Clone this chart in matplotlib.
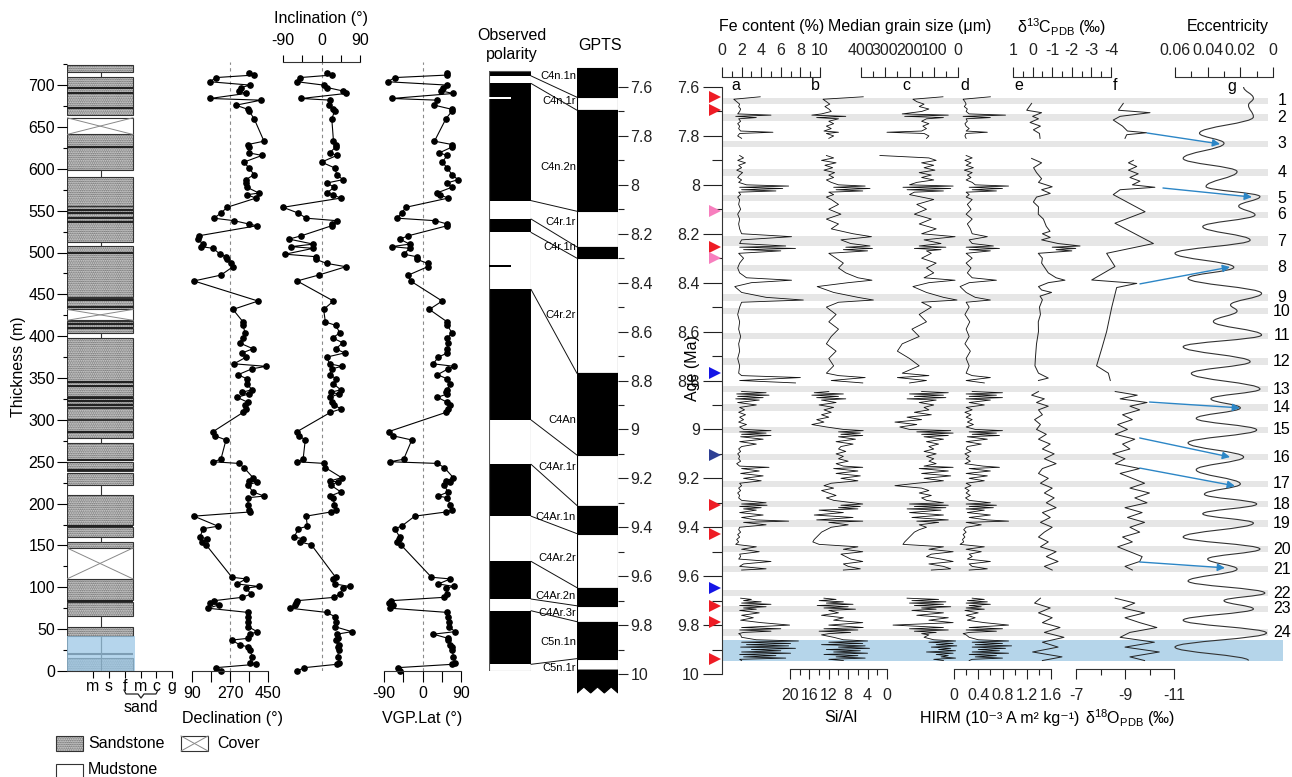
import numpy as np
import matplotlib
matplotlib.use("Agg")
import matplotlib.pyplot as plt
from matplotlib.patches import Rectangle, Polygon, ConnectionPatch, PathPatch
from matplotlib.path import Path
from matplotlib.lines import Line2D
from matplotlib.ticker import FixedLocator, FuncFormatter
import matplotlib.transforms as mtransforms

plt.rcParams['font.family'] = ['Liberation Sans', 'DejaVu Sans']
plt.rcParams['font.size'] = 11.5
plt.rcParams['axes.unicode_minus'] = False
plt.rcParams['mathtext.fontset'] = 'custom'
plt.rcParams['mathtext.rm'] = 'Liberation Sans'
plt.rcParams['mathtext.it'] = 'Liberation Sans:italic'
plt.rcParams['mathtext.bf'] = 'Liberation Sans:bold'
plt.rcParams['hatch.linewidth'] = 0.8
nan = np.nan

# ============================ DATA ============================
# Lithology (thickness in m)
sand_beds = [(0, 15), (42, 53), (66, 83), (85, 110), (147, 154), (160, 172), (174, 210),
             (222, 237), (239, 250), (252, 272), (278, 286), (287, 300), (301, 314),
             (315, 318), (319, 322), (323, 327), (328, 398), (404, 410), (411, 418),
             (432, 446), (447, 508), (512, 555), (555, 590), (598, 641), (664, 710), (716, 724)]
mud_beds = [(15, 42), (53, 66), (154, 160), (210, 222), (272, 278), (398, 404),
            (508, 512), (590, 598), (710, 716)]
cover_beds = [(110, 147), (419, 432), (641, 661)]
dark_layers = [20, 84, 173, 240, 252, 286, 318, 322, 326, 341, 345, 410, 415, 435, 443,
               500, 537, 541, 547, 551, 626, 673, 690, 696]
blue_zone_m = (0, 42)
grain_labels = ['m', 's', 'f', 'm', 'c', 'g']
thick_ticks = [0, 50, 100, 150, 200, 250, 300, 350, 400, 450, 500, 550, 600, 650, 700]

# Palaeomagnetic samples
thick = [714, 712, 709, 704, 700, 697, 693, 690, 684, 682,
         676, 671, 669, 660, 633, 629, 626, 619, 616, 608,
         601, 593, 587, 583, 578, 571, 569, 565, 554, 547,
         541, 538, 534, 532, 520, 516, 510, 507, 505, 498,
         495, 492, 487, 483, 473, 466, 442, 432, 417, 413,
         404, 398, 392, 385, 380, 375, 367, 364, 361, 354,
         349, 343, 336, 333, 331, 327, 321, 318, 313, 309,
         286, 281, 276, 253, 250, 248, 243, 231, 227, 226,
         222, 214, 209, 207, 198, 192, 190, 185, 173, 170,
         160, 158, 154, 151, 112, 110, 104, 101, 99, 92,
         88, 84, 81, 79, 75, 70, 65, 59, 53, 47,
         44, 39, 37, 31, 29, 25, 17, 10, 8, 4, 0]
decl = [360, 384, 204, 175, 365, 322, 313, 345, 175, 417,
        298, 355, 360, 384, 431, 355, 360, 360, 422, 336,
        360, 384, 345, 345, 350, 407, 350, 393, 256, 227,
        194, 289, 360, 398, 123, 118, 142, 133, 190, 223,
        251, 256, 275, 284, 227, 99, 403, 284, 332, 332,
        341, 330, 315, 379, 327, 346, 289, 441, 374, 308,
        351, 351, 374, 327, 360, 303, 355, 340, 345, 332,
        190, 199, 251, 227, 190, 313, 336, 379, 360, 398,
        355, 379, 431, 355, 355, 360, 365, 99, 213, 142,
        128, 161, 137, 156, 279, 346, 303, 407, 346, 370,
        327, 194, 175, 218, 166, 355, 357, 357, 357, 398,
        365, 355, 279, 317, 355, 365, 375, 365, 393, 204, 227]
incl = [12, 24, -50, -57, 5, 14, 50, 57, -47, 21,
        17, 26, 31, 24, 28, 33, 33, 19, 36, 0,
        31, 36, 50, 12, 30, 12, 26, 45, -90, -54,
        -36, 36, 24, 24, -47, -76, -19, -71, -19, -85,
        -14, -14, 12, 57, -7, -57, 28, 5, 9, 33,
        43, 26, 50, 33, 54, 12, 19, 47, 25, 19,
        35, 28, 45, 22, 40, 20, 25, 30, 45, 21,
        -57, -52, -38, -43, -57, 7, 9, 47, 20, 38,
        22, 45, 20, 28, 30, 35, 22, -36, -33, -54,
        -64, -43, -50, -24, 33, 28, 31, 66, 50, 43,
        30, -57, -59, -62, -73, 12, 31, 33, 31, 71,
        36, 38, 35, 40, 38, 40, 38, 42, 36, -40, -57]
vgp = [58, 58, -65, -81, 58, 49, 44, 72, -72, 35,
       28, 69, 69, 55, 28, 69, 69, 39, 58, 46,
       58, 69, 83, 57, 69, 33, 40, 60, -39, -49,
       -60, 30, 58, 58, -33, -53, -30, -72, -30, -44,
       -14, -14, 12, 12, -33, -28, 46, 16, 58, 58,
       69, 58, 60, 58, 58, 37, 25, 74, 60, 35,
       58, 65, 58, 55, 58, 35, 58, 65, 60, 55,
       -79, -69, -25, -44, -76, 35, 51, 72, 55, 65,
       50, 60, 37, 58, 65, 68, 55, -18, -49, -65,
       -53, -55, -60, -51, 21, 65, 37, 74, 55, 58,
       50, -74, -79, -69, -75, 58, 60, 62, 62, 76,
       25, 60, 60, 65, 68, 70, 72, 75, 70, -58, -53]

# Observed polarity (thickness boundaries, bottom -> top) and polarity (1 normal, 0 reversed)
obs_bounds = [0, 8, 72, 86, 131, 185, 247, 300, 456, 524, 540, 562, 702, 711, 717]
obs_pol = [0, 1, 0, 1, 0, 1, 0, 1, 0, 1, 0, 1, 0, 1]
obs_short = [(684, 0), (484, 1)]

# GPTS (Ma, top -> bottom)
gpts_bounds = [7.522, 7.642, 7.695, 8.108, 8.254, 8.300, 8.771, 9.105, 9.311,
               9.426, 9.647, 9.721, 9.786, 9.937, 9.984]
gpts_pol = [1, 0, 1, 0, 1, 0, 1, 0, 1, 0, 1, 0, 1, 0, 1]
chron_names = ['C4n.1n', 'C4n.1r', 'C4n.2n', 'C4r.1r', 'C4r.1n', 'C4r.2r', 'C4An',
               'C4Ar.1r', 'C4Ar.1n', 'C4Ar.2r', 'C4Ar.2n', 'C4Ar.3r', 'C5n.1n', 'C5n.1r']
tie_m = [711, 702, 562, 540, 524, 456, 300, 247, 185, 131, 86, 72, 8]
tie_age = [7.642, 7.695, 8.108, 8.254, 8.300, 8.771, 9.105, 9.311, 9.426, 9.647, 9.721, 9.786, 9.937]
tie_colors = ['#ee1c25', '#ee1c25', '#f77fbe', '#ee1c25', '#f77fbe', '#1515e6', '#2e3f94',
              '#ee1c25', '#ee1c25', '#1515e6', '#ee1c25', '#ee1c25', '#ee1c25']

# Eccentricity minima bands (Ma) and the grey-band labels
band_ages = [7.657, 7.725, 7.833, 7.948, 8.054, 8.123, 8.230, 8.340, 8.459, 8.516, 8.618, 8.724,
             8.835, 8.912, 9.002, 9.113, 9.223, 9.305, 9.383, 9.489, 9.571, 9.669, 9.734, 9.832]
band_half = [0.013, 0.014, 0.013, 0.014, 0.014, 0.013, 0.020, 0.014, 0.014, 0.013, 0.013, 0.014,
             0.013, 0.014, 0.013, 0.014, 0.014, 0.014, 0.014, 0.013, 0.013, 0.014, 0.014, 0.014]
blue_band_age = (9.861, 9.947)

# Geochemical / grain-size / magnetic records (Ma)
A1 = [7.640, 7.650, 7.660, 7.670, 7.680, 7.690, 7.700, 7.710, 7.715, 7.720,
      7.725, 7.730, 7.740, 7.750, 7.760, 7.770, 7.780, 7.785, 7.790, 7.800, 7.810]
A2 = [7.880, 7.890, 7.900, 7.910, 7.920, 7.930, 7.940, 7.950, 7.960, 7.970,
      7.980, 7.990, 8.000, 8.005, 8.010, 8.015, 8.020, 8.025, 8.030, 8.040,
      8.050, 8.060, 8.080, 8.100, 8.120, 8.140, 8.160, 8.180, 8.200, 8.212,
      8.225, 8.240, 8.250, 8.255, 8.260, 8.265, 8.270, 8.280, 8.300, 8.320,
      8.340, 8.360, 8.380, 8.390, 8.400, 8.416, 8.440, 8.460, 8.471, 8.480,
      8.500, 8.530, 8.560, 8.590, 8.620, 8.650, 8.680, 8.710, 8.740, 8.770,
      8.780, 8.788, 8.800, 8.810]
A3 = [8.845, 8.850, 8.855, 8.860, 8.865, 8.870, 8.875, 8.880, 8.890, 8.900,
      8.910, 8.920, 8.930, 8.940, 8.950, 8.960, 8.970, 8.980, 8.990, 9.000,
      9.005, 9.010, 9.015, 9.020, 9.025, 9.030, 9.040, 9.050, 9.060, 9.070,
      9.080, 9.090, 9.100, 9.110, 9.120, 9.130, 9.140, 9.150, 9.155, 9.160,
      9.170, 9.180, 9.190, 9.200, 9.210, 9.220, 9.230, 9.240, 9.250, 9.260,
      9.270, 9.280, 9.290, 9.300, 9.305, 9.310, 9.315, 9.320, 9.325, 9.330,
      9.340, 9.350, 9.360, 9.370, 9.375, 9.380, 9.390, 9.400, 9.410, 9.420,
      9.430, 9.440, 9.450, 9.460, 9.470, 9.480, 9.490, 9.500, 9.510, 9.520,
      9.530, 9.540, 9.550, 9.560, 9.570, 9.575]
A4 = [9.690, 9.695, 9.700, 9.705, 9.710, 9.715, 9.720, 9.725, 9.730, 9.735,
      9.740, 9.750, 9.760, 9.770, 9.780, 9.790, 9.800, 9.810, 9.815, 9.820,
      9.825, 9.830, 9.835, 9.840, 9.850, 9.860, 9.865, 9.870, 9.875, 9.880,
      9.885, 9.890, 9.895, 9.900, 9.905, 9.910, 9.915, 9.920, 9.925, 9.930,
      9.935, 9.940, 9.945]

fe1 = [3.9, 1.2, 1.5, 1.8, 1.7, 1.9, 1.8, 1.6, 5.0, 1.4, 3.5, 1.7, 1.9, 1.6, 1.8, 1.7, 1.9, 5.2, 1.8, 1.6, 2.0]
fe2 = [1.8, 2.2, 1.6, 2.4, 1.7, 2.0, 1.5, 2.1, 1.8, 1.6, 2.0, 1.7, 2.5, 6.8, 1.8, 6.2, 2.0, 5.5, 1.7, 1.9,
       1.6, 1.8, 1.7, 1.9, 1.6, 1.8, 1.7, 1.8, 2.0, 7.1, 2.0, 1.8, 6.5, 1.8, 7.5, 2.2, 6.0, 1.7, 2.2, 1.8,
       1.6, 1.8, 2.5, 7.1, 3.0, 1.3, 2.0, 4.5, 8.3, 2.0, 1.8, 1.6, 1.8, 1.7, 1.9, 1.7, 1.8, 1.6, 1.8, 1.7,
       2.0, 8.0, 1.8, 7.5]
fe3 = [2.0, 4.5, 1.5, 4.8, 1.6, 4.2, 1.4, 3.8, 1.6, 3.5, 1.8, 2.3, 1.7, 2.4, 1.8, 2.2, 1.7, 2.5, 1.8, 2.2,
       5.0, 1.8, 4.5, 2.0, 5.0, 1.9, 4.2, 1.8, 3.5, 2.0, 1.7, 1.9, 1.6, 1.8, 1.7, 1.9, 1.5, 1.8, 4.8, 2.0,
       3.8, 1.9, 4.2, 2.2, 4.0, 1.8, 2.0, 1.7, 1.9, 1.6, 1.8, 1.7, 2.0, 4.5, 2.0, 4.6, 1.8, 4.0, 2.2, 3.5,
       1.8, 4.2, 2.0, 3.5, 6.8, 2.2, 4.5, 1.8, 1.7, 1.9, 1.6, 1.8, 1.5, 1.7, 1.4, 3.5, 2.0, 3.8, 1.8, 1.9,
       1.7, 5.0, 2.2, 1.8, 4.5, 2.0]
fe4 = [1.9, 3.0, 2.2, 4.0, 2.0, 5.0, 1.8, 4.5, 2.2, 3.5, 1.8, 3.8, 2.0, 3.2, 1.9, 4.0, 6.9, 2.0, 6.0, 1.8,
       5.0, 2.2, 1.7, 1.9, 2.0, 3.5, 7.8, 2.0, 7.0, 2.5, 6.8, 1.9, 7.5, 3.0, 6.0, 2.0, 7.0, 1.8, 5.5, 2.2,
       6.5, 1.8, 2.0]

sial1 = [4.9, 13.2, 12.5, 11.8, 12.8, 12.0, 11.5, 13.5, 15.5, 8.5, 14.5, 10.0, 12.0, 11.0, 12.5, 11.5, 13.0, 10.0, 12.5, 11.0, 12.0]
sial2 = [12.5, 11.0, 13.5, 10.5, 12.8, 11.2, 13.0, 10.8, 12.0, 11.0, 12.5, 11.5, 10.0, 4.5, 11.0, 3.5, 10.5, 5.0, 12.0, 11.0,
         12.5, 11.5, 10.0, 12.0, 9.5, 12.5, 10.0, 11.5, 7.0, 3.2, 9.5, 7.5, 3.5, 8.5, 3.0, 9.0, 4.0, 12.0, 10.5, 9.0,
         10.0, 8.5, 6.0, 3.1, 8.0, 14.4, 11.0, 6.0, 2.8, 10.0, 12.5, 10.5, 12.0, 10.0, 11.5, 12.5, 10.5, 12.0, 11.0, 12.5,
         10.0, 4.5, 11.5, 5.0]
sial3 = [12.0, 15.0, 9.0, 15.5, 10.0, 14.5, 8.5, 13.5, 10.5, 14.0, 11.0, 13.0, 11.5, 13.5, 12.0, 14.5, 13.0, 15.5, 12.5, 9.0,
         4.9, 10.0, 5.5, 9.5, 5.0, 10.0, 6.5, 10.5, 7.0, 9.5, 10.0, 8.5, 10.5, 9.0, 10.0, 8.0, 10.5, 9.0, 5.0, 11.0,
         6.0, 10.5, 5.5, 9.5, 6.0, 11.5, 13.0, 11.0, 13.5, 12.0, 10.5, 12.5, 11.0, 7.0, 5.0, 9.5, 5.5, 10.0, 6.0, 14.0,
         9.0, 15.0, 7.0, 14.5, 5.0, 12.0, 8.0, 11.5, 12.5, 13.5, 14.0, 14.5, 15.0, 15.3, 14.0, 6.0, 9.0, 5.0, 9.5, 8.5,
         7.5, 5.0, 9.0, 8.0, 5.5, 9.0]
sial4 = [13.0, 10.5, 14.0, 9.0, 12.5, 7.0, 14.4, 8.0, 13.0, 6.5, 12.0, 10.0, 13.5, 9.0, 11.0, 5.0, 12.0, 4.9, 13.0, 6.0,
         14.0, 7.5, 12.0, 13.5, 11.0, 9.0, 4.0, 12.0, 5.0, 13.5, 4.5, 10.0, 3.6, 12.5, 5.5, 11.0, 4.0, 13.0, 6.0, 10.5,
         4.5, 12.0, 9.0]

md1 = [62, 186, 170, 140, 160, 120, 150, 230, 40, 220, 60, 130, 150, 120, 145, 130, 150, 293, 140, 120, 130]
md2 = [322, 120, 90, 150, 100, 140, 95, 160, 110, 150, 100, 170, 200, 20, 227, 30, 210, 60, 180, 200,
       150, 100, 170, 130, 180, 110, 160, 90, 150, 12, 140, 70, 160, 50, 180, 70, 130, 110, 150, 90,
       130, 100, 140, 12, 120, 186, 130, 60, 4, 150, 110, 160, 130, 190, 160, 230, 250, 200, 160, 230,
       120, 250, 130, 200]
md3 = [150, 40, 200, 60, 180, 50, 210, 90, 160, 100, 140, 120, 180, 110, 210, 150, 260, 170, 240, 200,
       30, 170, 20, 150, 40, 140, 60, 130, 80, 120, 100, 140, 90, 130, 100, 120, 90, 140, 20, 160,
       40, 150, 30, 140, 60, 170, 260, 150, 120, 160, 110, 150, 130, 60, 200, 40, 180, 50, 210, 70,
       200, 60, 190, 40, 170, 80, 160, 130, 160, 180, 190, 200, 210, 220, 227, 60, 120, 20, 110, 130,
       70, 20, 120, 60, 30, 110]
md4 = [210, 80, 190, 50, 200, 60, 180, 30, 150, 90, 190, 60, 170, 40, 120, 20, 268, 60, 200, 40,
       180, 90, 150, 120, 140, 100, 10, 120, 20, 90, 5, 110, 30, 80, 10, 130, 20, 90, 40, 70,
       10, 100, 60]

hirm1 = [0.6, 0.15, 0.18, 0.2, 0.17, 0.22, 0.2, 0.25, 0.85, 0.15, 0.6, 0.2, 0.22, 0.18, 0.2, 0.25, 0.2, 0.55, 0.2, 0.18, 0.2]
hirm2 = [0.2, 0.3, 0.18, 0.28, 0.2, 0.32, 0.17, 0.3, 0.22, 0.28, 0.2, 0.3, 0.35, 0.9, 0.25, 0.8, 0.3, 0.7, 0.2, 0.25,
         0.2, 0.3, 0.22, 0.28, 0.2, 0.3, 0.22, 0.27, 0.3, 0.55, 0.25, 0.3, 0.65, 0.2, 0.75, 0.25, 0.6, 0.2, 0.3, 0.2,
         0.28, 0.22, 0.3, 0.7, 0.25, 0.1, 0.2, 0.35, 0.6, 0.2, 0.25, 0.18, 0.26, 0.2, 0.25, 0.18, 0.27, 0.2, 0.25, 0.2,
         0.3, 0.6, 0.2, 0.5]
hirm3 = [0.3, 0.8, 0.2, 0.7, 0.25, 0.8, 0.2, 0.6, 0.25, 0.5, 0.2, 0.3, 0.18, 0.28, 0.2, 0.3, 0.22, 0.32, 0.2, 0.35,
         0.8, 0.25, 0.7, 0.3, 0.75, 0.22, 0.55, 0.2, 0.45, 0.22, 0.2, 0.28, 0.18, 0.25, 0.2, 0.27, 0.18, 0.48, 0.75, 0.25,
         0.6, 0.2, 0.55, 0.25, 0.5, 0.2, 0.28, 0.18, 0.25, 0.2, 0.27, 0.19, 0.25, 0.6, 0.2, 0.7, 0.25, 0.65, 0.2, 0.5,
         0.22, 0.6, 0.25, 0.55, 0.9, 0.2, 0.45, 0.2, 0.16, 0.2, 0.15, 0.18, 0.14, 0.16, 0.1, 0.5, 0.2, 0.45, 0.25, 0.3,
         0.22, 0.6, 0.25, 0.3, 0.55, 0.25]
hirm4 = [0.3, 0.5, 0.22, 0.55, 0.2, 0.6, 0.25, 0.45, 0.2, 0.5, 0.18, 0.4, 0.2, 0.35, 0.22, 0.5, 0.9, 0.25, 0.8, 0.2,
         0.7, 0.25, 0.15, 0.2, 0.25, 0.4, 0.9, 0.3, 0.8, 0.35, 0.95, 0.3, 0.85, 0.4, 0.75, 0.3, 0.9, 0.25, 0.7, 0.35,
         0.8, 0.3, 0.25]

d13c_age = [7.667, 7.695, 7.705, 7.720, 7.730, 7.745, 7.760, 7.775, 7.790, 7.810, nan,
            7.892, 7.910, 7.930, 7.950, 7.975, 7.990, 8.008, 8.020, 8.035, 8.050, 8.070, 8.090, 8.120, 8.140,
            8.170, 8.190, 8.200, 8.215, 8.225, 8.240, 8.250, 8.255, 8.260, 8.265, 8.270, 8.280, 8.300, 8.320,
            8.360, 8.380, 8.390, 8.400, 8.416, 8.430, 8.440, 8.455, 8.470, 8.500, 8.530, 8.560, 8.600, 8.650,
            8.700, 8.740, 8.770, 8.790, 8.800, nan,
            8.845, 8.860, 8.875, 8.890, 8.905, 8.920, 8.940, 8.960, 8.980, 9.000, 9.020, 9.040, 9.060, 9.080,
            9.100, 9.120, 9.140, 9.160, 9.180, 9.200, 9.220, 9.240, 9.260, 9.280, 9.300, 9.320, 9.340, 9.360,
            9.380, 9.400, 9.420, 9.440, 9.460, 9.480, 9.500, 9.520, 9.540, 9.560, 9.575, nan,
            9.690, 9.710, 9.730, 9.750, 9.770, 9.790, 9.810, 9.830, 9.850, 9.870, 9.890, 9.910, 9.930, 9.945]
d13c = [0.05, 0.30, -0.46, 0.0, -0.3, 0.13, -0.4, -0.04, -0.35, -0.38, nan,
        0.05, -0.46, -0.05, -0.2, -0.46, -0.3, -1.0, -0.46, -0.9, -0.2, -0.04, -0.3, -0.29, -0.55,
        -0.7, -0.89, -0.5, -0.9, -0.46, -1.3, -2.42, -1.0, -2.2, -1.2, -2.0, -0.29, -0.5, -0.46,
        -0.8, -1.2, -1.65, -0.8, -0.3, -0.46, -0.97, -0.38, -0.5, -0.35, -0.4, -0.29, -0.3, -0.2,
        -0.15, -0.12, -0.3, -0.8, -0.3, nan,
        -0.3, 0.05, -0.6, -0.2, -0.8, -0.3, -0.5, -0.1, -0.4, -0.2, -0.7, -0.3, -0.9, -0.5,
        -1.1, -0.6, -1.2, -0.5, -0.3, -0.8, -0.4, -1.0, -0.6, -1.1, -0.7, -1.2, -0.5, -0.9,
        -0.4, -1.0, -0.6, -0.3, -0.8, -0.4, -1.2, -0.7, -1.3, -0.6, -1.0, nan,
        -0.4, -0.1, -0.9, -0.3, -1.0, -0.5, -1.4, -0.6, -1.6, -0.5, -1.3, 0.0, -1.5, -0.5]

d18o_age = [7.667, 7.695, 7.705, 7.720, 7.735, 7.760, 7.780, 7.787, 7.795, 7.810, nan,
            7.900, 7.910, 7.925, 7.940, 7.955, 7.970, 7.985, 8.000, 8.010, 8.020, 8.040, 8.110, 8.157,
            8.240, 8.280, 8.334, 8.389, 8.403, 8.420, 8.500, 8.600, 8.670, 8.740, 8.770, 8.800, nan,
            8.845, 8.860, 8.875, 8.890, 8.905, 8.920, 8.940, 8.960, 8.980, 9.000, 9.020, 9.040, 9.060,
            9.080, 9.100, 9.120, 9.140, 9.160, 9.180, 9.200, 9.220, 9.240, 9.260, 9.280, 9.300, 9.320,
            9.340, 9.360, 9.380, 9.400, 9.420, 9.440, 9.460, 9.480, 9.500, 9.520, 9.540, 9.560, 9.575, nan,
            9.690, 9.710, 9.730, 9.750, 9.770, 9.790, 9.810, 9.830, 9.850, 9.870, 9.890, 9.910, 9.930, 9.945]
d18o = [-8.93, -8.73, -10.02, -8.8, -8.52, -8.9, -9.1, -9.88, -9.07, -9.0, nan,
        -9.34, -9.14, -9.48, -9.14, -9.54, -9.2, -9.61, -9.3, -10.22, -8.8, -8.52, -9.82, -8.59,
        -10.16, -8.25, -8.59, -7.64, -9.48, -8.66, -8.46, -8.25, -8.05, -7.84, -8.32, -8.4, nan,
        -8.6, -9.5, -8.8, -9.9, -9.2, -9.6, -8.9, -9.3, -8.7, -9.1, -8.6, -9.4, -8.9,
        -9.2, -8.5, -9.0, -8.6, -9.6, -8.8, -9.3, -9.8, -9.2, -10.0, -9.4, -9.9, -9.0,
        -9.7, -9.1, -9.8, -9.2, -9.6, -8.9, -9.3, -8.7, -9.2, -9.7, -9.6, -9.0, -9.3, nan,
        -8.6, -9.4, -8.9, -9.8, -9.0, -9.6, -10.3, -9.2, -8.8, -10.2, -9.0, -10.4, -9.2, -9.8]

# Eccentricity (turning points of the solution)
ecc_age = [7.600, 7.646, 7.674, 7.722, 7.789, 7.830, 7.892, 7.946, 8.007, 8.048, 8.087, 8.123,
           8.171, 8.226, 8.280, 8.337, 8.382, 8.444, 8.491, 8.516, 8.559, 8.614, 8.662, 8.723,
           8.771, 8.835, 8.875, 8.912, 8.955, 9.002, 9.055, 9.113, 9.165, 9.223, 9.265, 9.305,
           9.345, 9.383, 9.440, 9.489, 9.530, 9.571, 9.620, 9.669, 9.700, 9.734, 9.780, 9.832,
           9.890, 9.945]
ecc = [0.018, 0.012, 0.015, 0.012, 0.045, 0.030, 0.055, 0.022, 0.041, 0.008, 0.021, 0.011,
       0.043, 0.014, 0.060, 0.024, 0.052, 0.007, 0.026, 0.022, 0.0365, 0.007, 0.055, 0.014,
       0.050, 0.008, 0.038, 0.020, 0.047, 0.010, 0.052, 0.018, 0.047, 0.020, 0.042, 0.010,
       0.043, 0.012, 0.055, 0.008, 0.040, 0.022, 0.052, 0.005, 0.030, 0.012, 0.055, 0.004,
       0.060, 0.015]

# Arrows linking d18O features to eccentricity minima
arrow_from = [(-9.9, 7.788), (-10.55, 8.013), (-9.61, 8.405), (-10.0, 8.888), (-9.6, 9.035),
              (-9.6, 9.158), (-9.6, 9.542)]
arrow_to = [(0.0324, 7.833), (0.0129, 8.050), (0.0263, 8.336), (0.0202, 8.912), (0.0263, 9.113),
            (0.0233, 9.231), (0.0294, 9.566)]

# ============================ LAYOUT ============================
W, H = 1292, 777
fig = plt.figure(figsize=(W / 100, H / 100), dpi=100)


def add_ax(x0, y0, x1, y1):
    ax = fig.add_axes([x0 / W, 1 - y1 / H, (x1 - x0) / W, (y1 - y0) / H])
    ax.patch.set_visible(False)
    return ax


def ftext(x, y, s, **kw):
    kw.setdefault('ha', 'center')
    kw.setdefault('va', 'center')
    return fig.text(x / W, 1 - y / H, s, **kw)


def hide_spines(ax, keep=()):
    for k, sp in ax.spines.items():
        sp.set_visible(k in keep)
        sp.set_linewidth(0.8)
        sp.set_color('#333333')


fmt_g = FuncFormatter(lambda v, p: f'{v:g}')
SAND_FACE, SAND_DOT, SAND_HATCH = '#dcdcdc', '#555555', '.........'

# ---------------- thickness-based panels ----------------
TY0, TY1 = 62, 671
TMAX = (TY1 - TY0) / 0.837

# Lithology column
ax_lit = add_ax(67, TY0, 172, TY1)
ax_lit.set_xlim(0, 6.6)
ax_lit.set_ylim(0, TMAX)
hide_spines(ax_lit, ('bottom',))
MUD_W, SAND_W = 2.14, 4.15
for b, t in sand_beds:
    ax_lit.add_patch(Rectangle((0, b), SAND_W, t - b, facecolor=SAND_FACE, edgecolor=SAND_DOT,
                               hatch=SAND_HATCH, lw=0))
    ax_lit.add_patch(Rectangle((0, b), SAND_W, t - b, fill=False, edgecolor='#333333', lw=0.8))
for b, t in mud_beds:
    ax_lit.add_patch(Rectangle((0, b), MUD_W, t - b, facecolor='white', edgecolor='#333333', lw=0.8))
for b, t in cover_beds:
    ax_lit.add_patch(Rectangle((0, b), SAND_W, t - b, facecolor='white', edgecolor='#333333', lw=0.8))
    ax_lit.plot([0, SAND_W], [b, t], color='#888888', lw=0.7)
    ax_lit.plot([0, SAND_W], [t, b], color='#888888', lw=0.7)
for d in dark_layers:
    ax_lit.plot([0, SAND_W], [d, d], color='#222222', lw=1.5, solid_capstyle='butt')
ax_lit.plot([MUD_W, MUD_W], [blue_zone_m[0], blue_zone_m[1]], color='#333333', lw=0.8)
ax_lit.add_patch(Rectangle((0, blue_zone_m[0]), SAND_W + 0.15, blue_zone_m[1] - blue_zone_m[0],
                           facecolor='#9cc8e6', alpha=0.75, lw=0, zorder=5))
ax_lit.yaxis.set_major_locator(FixedLocator(thick_ticks))
ax_lit.yaxis.set_minor_locator(FixedLocator([v + 25 for v in thick_ticks]))
ax_lit.tick_params(axis='y', which='major', length=7, width=0.8, pad=1.5)
ax_lit.tick_params(axis='y', which='minor', length=3, width=0.8)
ax_lit.set_xticks([1.63, 2.64, 3.65, 4.65, 5.6, 6.6])
ax_lit.set_xticklabels(grain_labels)
ax_lit.tick_params(axis='x', length=5, width=0.8, pad=1)
ftext(19, 367, 'Thickness (m)', rotation=90)
# brace under sand classes
bx = [124, 126, 138, 141, 144, 156, 158]
by = [690, 694, 694, 698, 694, 694, 690]
fig.add_artist(Line2D([x / W for x in bx], [1 - y / H for y in by], transform=fig.transFigure,
                      color='#222222', lw=0.9))
ftext(141, 707, 'sand')

# Declination
ax_dec = add_ax(192, TY0, 268, TY1)
ax_dec.set_xlim(90, 450)
ax_dec.set_ylim(0, TMAX)
hide_spines(ax_dec, ('bottom',))
ax_dec.axvline(270, color='#8a8a8a', ls=(0, (3, 3)), lw=0.8)
ax_dec.plot(decl, thick, '-o', color='k', lw=0.8, ms=3.8, clip_on=False)
ax_dec.set_xticks([90, 180, 270, 360, 450])
ax_dec.set_xticklabels(['90', '', '270', '', '450'])
ax_dec.set_yticks([])
ax_dec.tick_params(axis='x', length=8, width=0.8, pad=3)
ftext(232, 718, 'Declination (°)')

# Inclination
ax_inc = add_ax(283, TY0, 360, TY1)
ax_inc.set_xlim(-90, 90)
ax_inc.set_ylim(0, TMAX)
hide_spines(ax_inc, ('top',))
ax_inc.axvline(0, color='#8a8a8a', ls=(0, (3, 3)), lw=0.8)
ax_inc.plot(incl, thick, '-o', color='k', lw=0.8, ms=3.8, clip_on=False)
ax_inc.xaxis.set_ticks_position('top')
ax_inc.set_xticks([-90, -45, 0, 45, 90])
ax_inc.set_xticklabels(['-90', '', '0', '', '90'])
ax_inc.set_yticks([])
ax_inc.tick_params(axis='x', length=5, width=0.8, pad=5)
ftext(321, 19, 'Inclination (°)')

# VGP latitude
ax_vgp = add_ax(384, TY0, 461, TY1)
ax_vgp.set_xlim(-90, 90)
ax_vgp.set_ylim(0, TMAX)
hide_spines(ax_vgp, ('bottom',))
ax_vgp.axvline(0, color='#8a8a8a', ls=(0, (3, 3)), lw=0.8)
ax_vgp.plot(vgp, thick, '-o', color='k', lw=0.8, ms=3.8, clip_on=False)
ax_vgp.set_xticks([-90, -45, 0, 45, 90])
ax_vgp.set_xticklabels(['-90', '', '0', '', '90'])
ax_vgp.set_yticks([])
ax_vgp.tick_params(axis='x', length=8, width=0.8, pad=3)
ftext(422, 718, 'VGP.Lat (°)')

# Observed polarity
ax_obs = add_ax(489, TY0, 531, TY1)
ax_obs.set_xlim(0, 1)
ax_obs.set_ylim(0, TMAX)
ax_obs.axis('off')
for i, p in enumerate(obs_pol):
    b, t = obs_bounds[i], obs_bounds[i + 1]
    ax_obs.add_patch(Rectangle((0, b), 1, t - b, facecolor='k' if p else 'white', lw=0))
ax_obs.add_patch(Rectangle((0, obs_bounds[0]), 1, obs_bounds[-1] - obs_bounds[0], fill=False,
                           edgecolor='#555555', lw=0.8))
for m, p in obs_short:
    ax_obs.add_patch(Rectangle((0, m - 1.2), 0.52, 2.4, facecolor='k' if p else 'white', lw=0))
ftext(512, 35, 'Observed')
ftext(512, 54, 'polarity')

# ---------------- GPTS ----------------
AGE_PX = 244.6
def age_at(ypx):
    return 7.6 + (ypx - 87) / AGE_PX

ax_gp = add_ax(577, 62, 618, 700)
ax_gp.set_xlim(0, 1)
ax_gp.set_ylim(age_at(700), age_at(62))
hide_spines(ax_gp, ())
for i, p in enumerate(gpts_pol):
    top = gpts_bounds[i]
    if i + 1 < len(gpts_bounds):
        bot = gpts_bounds[i + 1]
        ax_gp.add_patch(Rectangle((0, top), 1, bot - top, facecolor='k' if p else 'white',
                                  edgecolor='k', lw=0.8))
    else:
        zig_lo, zig_hi = age_at(693), age_at(687)
        verts = [(0, top), (1, top), (1, zig_lo), (5 / 6, zig_hi), (4 / 6, zig_lo), (3 / 6, zig_hi),
                 (2 / 6, zig_lo), (1 / 6, zig_hi), (0, zig_lo)]
        ax_gp.add_patch(Polygon(verts, closed=True, facecolor='k', edgecolor='k', lw=0.8))
ax_gp.yaxis.tick_right()
ax_gp.set_xticks([])
ax_gp.yaxis.set_major_locator(FixedLocator([7.6, 7.8, 8.0, 8.2, 8.4, 8.6, 8.8, 9.0, 9.2, 9.4, 9.6, 9.8, 10.0]))
ax_gp.yaxis.set_minor_locator(FixedLocator([7.7, 7.9, 8.1, 8.3, 8.5, 8.7, 8.9, 9.1, 9.3, 9.5, 9.7, 9.9]))
ax_gp.yaxis.set_major_formatter(fmt_g)
ax_gp.tick_params(axis='y', which='major', length=7, width=0.8, pad=2, colors='#222222')
ax_gp.tick_params(axis='y', which='minor', length=4, width=0.8, colors='#222222')
ftext(600, 45, 'GPTS')

chron_label_px = [76, 101, 167, 222, 247, 315, 420, 467, 517, 558, 596, 613, 642, 668]
for name, y in zip(chron_names, chron_label_px):
    ftext(576, y, name, ha='right', fontsize=8)

for m, a in zip(tie_m, tie_age):
    con = ConnectionPatch(xyA=(1, m), coordsA='data', axesA=ax_obs,
                          xyB=(0, a), coordsB='data', axesB=ax_gp, color='#111111', lw=0.7)
    fig.add_artist(con)

# ---------------- Right panel (age) ----------------
RX0, RX1, RY0, RY1 = 722, 1283, 87, 674
ax_r = add_ax(RX0, RY0, RX1, RY1)
ax_r.set_ylim(10, 7.6)
ax_r.set_xlim(0, 1)
hide_spines(ax_r, ('left',))
ax_r.set_xticks([])
ax_r.yaxis.set_major_locator(FixedLocator([7.6, 7.8, 8.0, 8.2, 8.4, 8.6, 8.8, 9.0, 9.2, 9.4, 9.6, 9.8, 10.0]))
ax_r.yaxis.set_minor_locator(FixedLocator([7.7, 7.9, 8.1, 8.3, 8.5, 8.7, 8.9, 9.1, 9.3, 9.5, 9.7, 9.9]))
ax_r.yaxis.set_major_formatter(fmt_g)
ax_r.tick_params(axis='y', which='major', length=14, width=0.8, pad=2, colors='#222222')
ax_r.tick_params(axis='y', which='minor', length=7, width=0.8, colors='#222222')
ftext(693, 368, 'Age (Ma)', rotation=90)

band_xmax = (1268 - RX0) / (RX1 - RX0)
for c, hw in zip(band_ages, band_half):
    ax_r.axhspan(c - hw, c + hw, xmin=0, xmax=band_xmax, color='#e6e6e6', lw=0, zorder=0)
ax_r.axhspan(blue_band_age[0], blue_band_age[1], xmin=0, xmax=1, color='#b5d5ea', lw=0, zorder=0)
blend = mtransforms.blended_transform_factory(ax_r.transAxes, ax_r.transData)
for i, c in enumerate(band_ages):
    ax_r.text((1282 - RX0) / (RX1 - RX0), c, str(i + 1), transform=blend, ha='center', va='center',
              clip_on=False)
for a, col in zip(tie_age, tie_colors):
    ax_r.plot([(715 - RX0) / (RX1 - RX0)], [a], marker='>', ms=9, color=col, transform=blend,
              clip_on=False, lw=0, markeredgewidth=0)


def curve_axes(p0, v0, p1, v1):
    ax = add_ax(RX0, RY0, RX1, RY1)
    k = (v1 - v0) / (p1 - p0)
    ax.set_xlim(v0 + (RX0 - p0) * k, v0 + (RX1 - p0) * k)
    ax.set_ylim(10, 7.6)
    ax.axis('off')
    return ax


def join(*pairs):
    xs, ys = [], []
    for a, v in pairs:
        xs += list(v) + [nan]
        ys += list(a) + [nan]
    return xs, ys


CURVE = dict(color='#111111', lw=0.6)
ax_fe = curve_axes(722, 0, 820, 10)
x, y = join((A1, fe1), (A2, fe2), (A3, fe3), (A4, fe4))
ax_fe.plot(x, y, **CURVE)
ax_si = curve_axes(790, 20, 887, 0)
x, y = join((A1, sial1), (A2, sial2), (A3, sial3), (A4, sial4))
ax_si.plot(x, y, **CURVE)
ax_md = curve_axes(861, 400, 958, 0)
x, y = join((A1, md1), (A2, md2), (A3, md3), (A4, md4))
ax_md.plot(x, y, **CURVE)
ax_hi = curve_axes(954, 0, 1051, 1.6)
x, y = join((A1, hirm1), (A2, hirm2), (A3, hirm3), (A4, hirm4))
ax_hi.plot(x, y, **CURVE)
ax_c = curve_axes(1013, 1, 1111, -4)
ax_c.plot(d13c, d13c_age, color='#222222', lw=0.7)
ax_o = curve_axes(1076, -7, 1174, -11)
ax_o.plot(d18o, d18o_age, color='#222222', lw=0.7)
ax_e = curve_axes(1175, 0.06, 1273, 0)
verts = [(ecc[0], ecc_age[0])]
codes = [Path.MOVETO]
for i in range(1, len(ecc)):
    dt = ecc_age[i] - ecc_age[i - 1]
    verts += [(ecc[i - 1], ecc_age[i - 1] + 0.4 * dt), (ecc[i], ecc_age[i] - 0.4 * dt), (ecc[i], ecc_age[i])]
    codes += [Path.CURVE4] * 3
ax_e.add_patch(PathPatch(Path(verts, codes), fill=False, edgecolor='#333333', lw=0.8))

for (fx, fy), (tx, ty) in zip(arrow_from, arrow_to):
    ax_e.annotate('', xy=(tx, ty), xycoords=ax_e.transData, xytext=(fx, fy), textcoords=ax_o.transData,
                  arrowprops=dict(arrowstyle='-|>', color='#2c86c6', lw=1.0, mutation_scale=11,
                                  shrinkA=0, shrinkB=0), annotation_clip=False)

for s, xp in zip('abcdefg', [736, 815, 906, 965, 1019, 1115, 1232]):
    ftext(xp, 86, s)


# ---------------- scale bars ----------------
def scale_bar(p0, p1, ypx, v0, v1, majors, minors, side):
    if side == 'top':
        ax = add_ax(p0, ypx, p1, ypx + 2)
        hide_spines(ax, ('top',))
        ax.xaxis.set_ticks_position('top')
    else:
        ax = add_ax(p0, ypx - 2, p1, ypx)
        hide_spines(ax, ('bottom',))
        ax.xaxis.set_ticks_position('bottom')
    ax.set_xlim(v0, v1)
    ax.set_yticks([])
    ax.xaxis.set_major_locator(FixedLocator(majors))
    ax.xaxis.set_minor_locator(FixedLocator(minors))
    ax.xaxis.set_major_formatter(fmt_g)
    ax.tick_params(axis='x', which='major', direction='out', length=7, width=0.8, pad=7, colors='#222222')
    ax.tick_params(axis='x', which='minor', direction='out', length=4, width=0.8, colors='#222222')
    return ax


scale_bar(722, 820, 77, 0, 10, [0, 2, 4, 6, 8, 10], [1, 3, 5, 7, 9], 'top')
scale_bar(861, 958, 77, 400, 0, [400, 300, 200, 100, 0], [350, 250, 150, 50], 'top')
scale_bar(1013, 1111, 77, 1, -4, [1, 0, -1, -2, -3, -4], [0.5, -0.5, -1.5, -2.5, -3.5], 'top')
scale_bar(1175, 1273, 77, 0.06, 0, [0.06, 0.04, 0.02, 0], [0.05, 0.03, 0.01], 'top')
scale_bar(790, 887, 669, 20, 0, [20, 16, 12, 8, 4, 0], [18, 14, 10, 6, 2], 'bottom')
scale_bar(954, 1051, 669, 0, 1.6, [0, 0.4, 0.8, 1.2, 1.6], [0.2, 0.6, 1.0, 1.4], 'bottom')
scale_bar(1076, 1174, 669, -7, -11, [-7, -9, -11], [-8, -10], 'bottom')

ftext(772, 27, 'Fe content (%)')
ftext(910, 27, 'Median grain size (μm)')
ftext(1062, 27, r'δ$^{\rm 13}$C$_{\rm PDB}$ (‰)')
ftext(1228, 27, 'Eccentricity')
ftext(841, 718, 'Si/Al')
ftext(1000, 718, 'HIRM (10⁻³ A m² kg⁻¹)')
ftext(1130, 718, r'δ$^{\rm 18}$O$_{\rm PDB}$ (‰)')

# ---------------- lithology legend ----------------
def fig_rect(x0, y0, x1, y1, **kw):
    r = Rectangle((x0 / W, 1 - y1 / H), (x1 - x0) / W, (y1 - y0) / H, transform=fig.transFigure, **kw)
    fig.add_artist(r)

fig_rect(56, 736, 83, 751, facecolor=SAND_FACE, edgecolor=SAND_DOT, hatch=SAND_HATCH, lw=0)
fig_rect(56, 736, 83, 751, fill=False, edgecolor='#333333', lw=0.8)
ftext(88, 744, 'Sandstone', ha='left')
fig_rect(181, 736, 208, 751, facecolor='white', edgecolor='#333333', lw=0.8)
fig.add_artist(Line2D([181 / W, 208 / W], [1 - 736 / H, 1 - 751 / H], transform=fig.transFigure, color='#888888', lw=0.7))
fig.add_artist(Line2D([181 / W, 208 / W], [1 - 751 / H, 1 - 736 / H], transform=fig.transFigure, color='#888888', lw=0.7))
ftext(217, 744, 'Cover', ha='left')
fig_rect(56, 764, 83, 779, facecolor='white', edgecolor='#333333', lw=0.8)
ftext(88, 770, 'Mudstone', ha='left')

fig.savefig('out.png', dpi=100)
